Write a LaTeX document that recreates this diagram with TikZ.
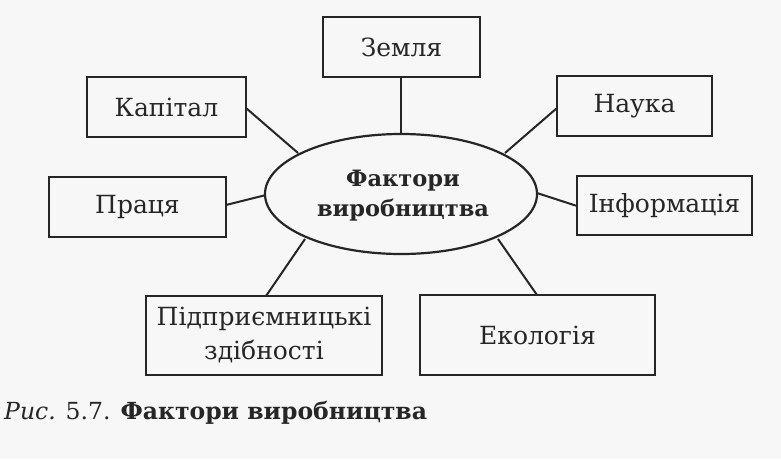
\documentclass[tikz,border=0pt]{standalone}
\usepackage{fontspec}
\setmainfont{DejaVu Serif}
\usetikzlibrary{shapes.geometric}
\definecolor{ink}{HTML}{262626}
\definecolor{paper}{HTML}{F7F7F7}
\begin{document}
\begin{tikzpicture}[x=1pt,y=-1pt,
  factor/.style={draw=ink, line width=2.2pt, fill=paper, text=ink, rectangle, inner sep=0pt,
     font=\fontsize{25}{34}\selectfont, align=center},
  core/.style={draw=ink, line width=2.2pt, fill=paper, text=ink, ellipse, inner sep=0pt,
     minimum width=272pt, minimum height=120pt, font=\bfseries\fontsize{22.5}{30}\selectfont, align=center},
  link/.style={draw=ink, line width=2pt}]
\fill[paper] (0,0) rectangle (781,459);
\useasboundingbox (0,0) rectangle (781,459);
% connector ends
\coordinate (cz) at (401,134);
\coordinate (ck) at (298,153);
\coordinate (cn) at (505,153);
\coordinate (cp) at (266,195);
\coordinate (ci) at (537,193);
\coordinate (cpd) at (305,239);
\coordinate (ce) at (498,239);
\coordinate (zb) at (401,77);
\coordinate (kb) at (246,108);
\coordinate (nb) at (557,108);
\coordinate (pb) at (226,205);
\coordinate (ib) at (577,206);
\coordinate (pdb) at (266,296);
\coordinate (eb) at (537,295);
\draw[link] (zb) -- (cz);
\draw[link] (kb) -- (ck);
\draw[link] (nb) -- (cn);
\draw[link] (pb) -- (cp);
\draw[link] (ib) -- (ci);
\draw[link] (pdb) -- (cpd);
\draw[link] (eb) -- (ce);
% center
\node[core] (c) at (401,194) {};
\node[text=ink, font=\bfseries\fontsize{22.5}{30}\selectfont, align=center, inner sep=0pt] (ct) at (403,196) {Фактори\\виробництва};
% boxes
\node[factor, minimum width=157pt, minimum height=60pt] (zem) at (401.5,47) {Земля};
\node[factor, minimum width=159pt, minimum height=60pt] (kap) at (166.5,107) {Капітал};
\node[factor, minimum width=155pt, minimum height=60pt] (nau) at (634.5,106) {Наука};
\node[factor, minimum width=177pt, minimum height=60pt] (pra) at (137.5,207) {Праця};
\node[factor, minimum width=175pt, minimum height=59pt] (inf) at (664.5,205.5) {Інформація};
\node[factor, minimum width=236pt, minimum height=79pt] (pid) at (264,335.5) {Підприємницькі\\здібності};
\node[factor, minimum width=235pt, minimum height=80pt] (eko) at (537.5,335) {Екологія};
% caption
\node[anchor=base west, inner sep=0pt, text=ink, font=\fontsize{23.5}{28}\selectfont] (cap) at (4,419)
  {\textit{Рис.} 5.7. \textbf{Фактори виробництва}};
\end{tikzpicture}
\end{document}
